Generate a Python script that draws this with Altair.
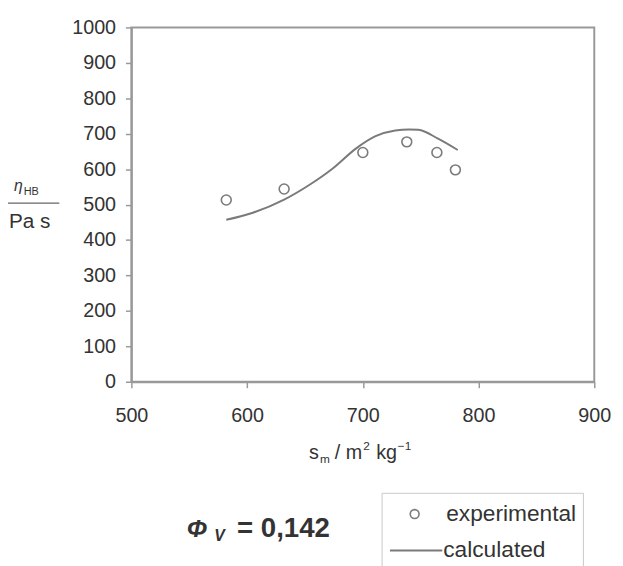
import altair as alt
import pandas as pd

# Experimental points
exp_x = [582, 632, 700, 738, 764, 780]
exp_y = [513, 544, 647, 677, 647, 598]

# Calculated curve
calc_x = [582, 605, 632, 654, 674, 694, 711, 728, 740, 748, 765, 782]
calc_y = [457, 477, 514, 556, 602, 658, 693, 709, 712, 711, 686, 654]

x_ticks = [500, 600, 700, 800, 900]
y_ticks = [0, 100, 200, 300, 400, 500, 600, 700, 800, 900, 1000]

FONT = "Liberation Sans"
OX, OY = 133, 24  # plot origin on page


def px(v):
    return v - OX


def py(v):
    return v - OY


exp_df = pd.DataFrame({"x": exp_x, "y": exp_y})
calc_df = pd.DataFrame({"x": calc_x, "y": calc_y})
one = pd.DataFrame({"a": [0]})

xscale = alt.Scale(domain=[500, 900], nice=False, zero=False)
yscale = alt.Scale(domain=[0, 1000], nice=False)

xaxis = alt.Axis(values=x_ticks, title=None, grid=False, labelFontSize=20, format="d",
                 labelFont=FONT, labelColor="#333", tickColor="#999", tickSize=6,
                 tickWidth=1.5, domainColor="#999", domainWidth=2, labelPadding=18,
                 labelFlush=False, labelOverlap=False, labelBound=False)
yaxis = alt.Axis(values=y_ticks, title=None, grid=False, labelFontSize=20, format="d",
                 labelFont=FONT, labelColor="#333", tickColor="#999", tickSize=6,
                 tickWidth=1.5, domainColor="#999", domainWidth=2, labelPadding=10,
                 labelFlush=False, labelOverlap=False, labelBound=False)

X = alt.X("x:Q", scale=xscale, axis=xaxis)
Y = alt.Y("y:Q", scale=yscale, axis=yaxis)

line = alt.Chart(calc_df).mark_line(color="#7a7a7a", strokeWidth=2, interpolate="monotone").encode(
    x=X, y=Y)

pts = alt.Chart(exp_df).mark_point(shape="circle", filled=False, size=100,
                                   color="#444", strokeWidth=1.6).encode(x=X, y=Y)


def txt(s, x, y, size, align="left", weight="normal", style="normal", color="#333",
        baseline="alphabetic"):
    return alt.Chart(one).mark_text(text=s, align=align, baseline=baseline, font=FONT,
                                    fontSize=size, fontWeight=weight, fontStyle=style,
                                    color=color).encode(
        x=alt.value(px(x)), y=alt.value(py(y)))


# x axis title
xt1 = txt("s", 313, 461, 20)
xt2 = txt("m", 324, 465, 12)
xt3 = txt("/ m", 339, 461, 20)
xt4 = txt("2", 368, 452, 12)
xt5 = txt("kg", 381, 461, 20)
xt6 = txt("−1", 403, 452, 12)

# y axis title (fraction)
yt1 = txt("η", 14, 190, 16, style="italic")
yt2 = txt("HB", 24, 194, 11)
frac = alt.Chart(one).mark_rule(color="#666", strokeWidth=1.2).encode(
    x=alt.value(px(6)), x2=alt.value(px(60)), y=alt.value(py(202)))
yt3 = txt("Pa s", 30, 227, 21, align="center")

# Phi text
ph1 = txt("Φ", 189, 540, 25, style="italic", weight="bold")
ph2 = txt("V", 217, 544, 16, style="italic", weight="bold")
ph3 = txt("= 0,142", 240, 540, 28, weight="bold")

# Legend (decoration)
lbox = alt.Chart(one).mark_rect(fill="white", stroke="#c8c8c8", strokeWidth=1).encode(
    x=alt.value(px(387)), x2=alt.value(px(591)), y=alt.value(py(496)), y2=alt.value(py(600)))
lpt = alt.Chart(one).mark_point(shape="circle", filled=False, size=80, color="#444",
                                strokeWidth=1.6).encode(
    x=alt.value(px(420)), y=alt.value(py(517)))
lline = alt.Chart(one).mark_rule(color="#7a7a7a", strokeWidth=2).encode(
    x=alt.value(px(395)), x2=alt.value(px(448)), y=alt.value(py(554)))
lt1 = txt("experimental", 452, 517, 23, baseline="middle")
lt2 = txt("calculated", 449, 554, 23, baseline="middle")

chart = alt.layer(
    line, pts, xt1, xt2, xt3, xt4, xt5, xt6, yt1, yt2, frac, yt3,
    ph1, ph2, ph3, lbox, lpt, lline, lt1, lt2
).properties(
    width=469, height=359,
    autosize=alt.AutoSizeParams(type="none"),
    padding={"left": 125, "top": 16, "right": 21, "bottom": 183},
    background="white",
).configure_view(stroke="#999", strokeWidth=2)

chart.save("out.html", embed_options={"renderer": "svg", "actions": False})
